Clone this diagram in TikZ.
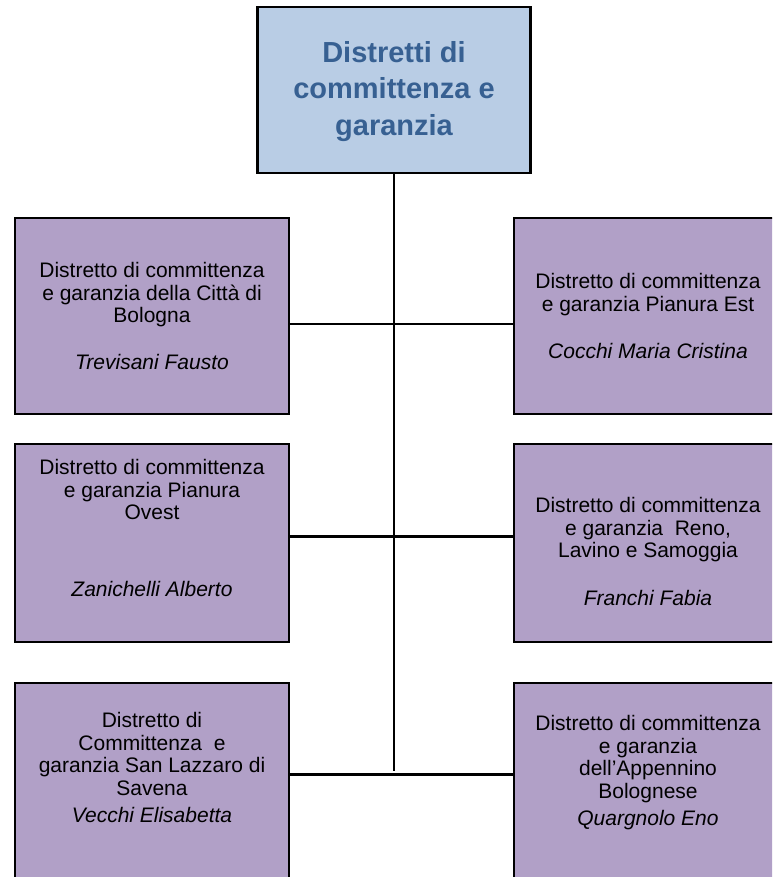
\documentclass[tikz,border=0pt]{standalone}
\usepackage{fontspec}
\setmainfont{Liberation Sans}
\definecolor{boxpurple}{HTML}{B1A0C7}
\definecolor{headblue}{HTML}{B9CDE5}
\definecolor{titleblue}{HTML}{376092}
\begin{document}
\begin{tikzpicture}[x=1pt,y=-1pt,
  distbox/.style={draw=black,line width=2.4pt,fill=boxpurple,inner sep=0pt,outer sep=0pt},
  headbox/.style={draw=black,line width=2.4pt,fill=headblue,inner sep=0pt,outer sep=0pt,minimum width=273pt,minimum height=166pt},
  headtext/.style={align=center,inner sep=0pt,text=titleblue,font=\fontsize{29}{36.5}\selectfont\bfseries},
  disttext/.style={align=center,inner sep=0pt,anchor=north,font=\fontsize{21}{22.6}\selectfont},
  nametext/.style={inner sep=0pt,anchor=north,font=\fontsize{21}{22.6}\selectfont\itshape},
  thinlink/.style={draw=black,line width=1.7pt},
  thicklink/.style={draw=black,line width=3pt}]
\useasboundingbox (0,0) rectangle (772,877);
\clip (0,0) rectangle (772,877);
% boxes
\node[headbox] (top) at (394,90) {};
\node[distbox,minimum width=274pt,minimum height=196pt] (L1) at (152,316) {};
\node[distbox,minimum width=286pt,minimum height=196pt] (R1) at (657,316) {};
\node[distbox,minimum width=274pt,minimum height=198pt] (L2) at (152,543) {};
\node[distbox,minimum width=286pt,minimum height=198pt] (R2) at (657,543) {};
\node[distbox,minimum width=274pt,minimum height=234pt] (L3) at (152,800) {};
\node[distbox,minimum width=286pt,minimum height=234pt] (R3) at (657,800) {};
% connector points
\coordinate (j1) at (394,323.7);
\coordinate (j2) at (394,536);
\coordinate (j3) at (394,774);
\coordinate (vend) at (394,770.7);
\draw[thinlink] (top.south) -- (vend);
\draw[thinlink] (L1.east |- j1) -- (R1.west |- j1);
\draw[thicklink] (L2.east |- j2) -- (R2.west |- j2);
\draw[thicklink] (L3.east |- j3) -- (R3.west |- j3);
% texts
\node[headtext] (ttl) at (394,91.5) {Distretti di\\committenza e\\garanzia};
\node[disttext] (t1) at (152,262) {Distretto di committenza\\e garanzia della Città di\\Bologna};
\node[nametext] (n1) at (152,354) {Trevisani Fausto};
\node[disttext] (t2) at (648,273) {Distretto di committenza\\e garanzia Pianura Est};
\node[nametext] (n2) at (648,343) {Cocchi Maria Cristina};
\node[disttext] (t3) at (152,459) {Distretto di committenza\\e garanzia Pianura\\Ovest};
\node[nametext] (n3) at (152,581) {Zanichelli Alberto};
\node[disttext] (t4) at (648,497) {Distretto di committenza\\e garanzia \ Reno,\\Lavino e Samoggia};
\node[nametext] (n4) at (648,590) {Franchi Fabia};
\node[disttext] (t5) at (152,712) {Distretto di\\Committenza \ e\\garanzia San Lazzaro di\\Savena};
\node[nametext] (n5) at (152,807) {Vecchi Elisabetta};
\node[disttext] (t6) at (648,715) {Distretto di committenza\\e garanzia\\dell’Appennino\\Bolognese};
\node[nametext] (n6) at (648,810) {Quargnolo Eno};
\end{tikzpicture}
\end{document}
